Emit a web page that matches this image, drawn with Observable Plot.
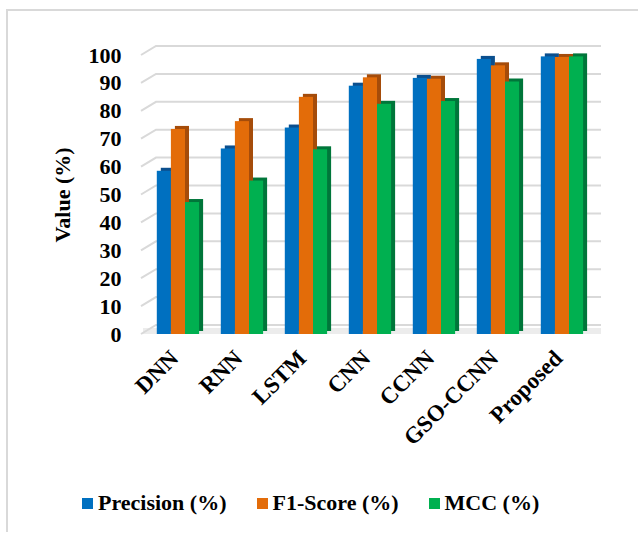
<!DOCTYPE html>
<html><head><meta charset="utf-8">
<script src="https://cdn.jsdelivr.net/npm/d3@7"></script>
<script src="https://cdn.jsdelivr.net/npm/@observablehq/plot@0.6"></script>
<style>
body{margin:0;background:#fff;width:638px;height:535px;overflow:hidden;position:relative;font-family:"Liberation Serif","Times New Roman",serif;}
#frame{position:absolute;left:6px;top:9px;width:700px;height:521px;border-top:2px solid #d9d9d9;border-left:2px solid #d9d9d9;}
#chart{position:absolute;left:0;top:0;}
#legend{position:absolute;left:82px;top:490px;height:26px;display:flex;align-items:center;font-weight:bold;font-size:22px;color:#000;white-space:nowrap;}
#legend .item{display:flex;align-items:center;margin-right:30px;}
#legend .sw{width:11px;height:11px;margin-right:5px;}
</style></head>
<body>
<div id="frame"></div>
<div id="chart"></div>
<div id="legend"></div>
<script>
const categories = ["DNN", "RNN", "LSTM", "CNN", "CCNN", "GSO-CCNN", "Proposed"];
const seriesNames = ["Precision (%)", "F1-Score (%)", "MCC (%)"];
const precision = [58.5, 66.5, 74.0, 89.0, 91.8, 98.6, 99.5];
const f1Score  = [73.5, 76.3, 85.0, 92.0, 91.5, 96.3, 99.3];
const mcc      = [47.3, 55.0, 66.2, 82.5, 83.5, 90.5, 99.5];
const yTicks = [0, 10, 20, 30, 40, 50, 60, 70, 80, 90, 100];
const frontColors = ["#0070C0", "#E36C09", "#00B050"];
const sideColors  = ["#0B4F8E", "#A54C0A", "#00763A"];

const seriesValues = [precision, f1Score, mcc];
const rows = [];
seriesNames.forEach((s, si) => categories.forEach((c, ci) => rows.push({category: c, series: s, value: seriesValues[si][ci]})));

// bar placement inside each band (styles)
const insets = [[10.8, 39.1], [24.9, 25.0], [39.0, 10.9]];

const barMarks = [];
seriesNames.forEach((s, si) => {
  const d = rows.filter(r => r.series === s);
  barMarks.push(Plot.barY(d, {x: "category", y: "value", fill: sideColors[si], dx: 4, dy: -3,
    insetLeft: insets[si][0], insetRight: insets[si][1]}));
  barMarks.push(Plot.barY(d, {x: "category", y: "value", fill: "series",
    insetLeft: insets[si][0], insetRight: insets[si][1]}));
});

const chart = Plot.plot({
  width: 638,
  height: 470,
  marginLeft: 146,
  marginRight: 44,
  marginTop: 55,
  marginBottom: 136,
  style: {fontFamily: "'Liberation Serif', 'Times New Roman', serif", fontSize: "22px", fontWeight: "bold", color: "#000", overflow: "visible", background: "transparent"},
  x: {domain: categories, padding: 0, round: false, axis: null},
  y: {domain: [0, 100], axis: null},
  color: {domain: seriesNames, range: frontColors},
  marks: [
    Plot.ruleY([0], {stroke: "#ececec", strokeWidth: 6, dy: -3.5, insetLeft: -3, insetRight: -7}),
    Plot.ruleY(yTicks, {render: (index, scales, values, dims) => {
      const g = d3.create("svg:g");
      const x0 = dims.marginLeft, x1 = dims.width - dims.marginRight;
      for (const i of index) {
        const y = scales.y(yTicks[i]);
        g.append("path")
          .attr("d", `M${x0 - 5},${y}L${x0 + 10},${y - 9}L${x1 + 7},${y - 9}`)
          .attr("fill", "none").attr("stroke", "#d9d9d9").attr("stroke-width", 2);
      }
      return g.node();
    }}),
    ...barMarks,
    Plot.axisY(yTicks, {tickSize: 0, tickPadding: 25, fontSize: 22, fontWeight: "bold", label: null}),
    Plot.axisX({tickRotate: -45, tickSize: 0, tickPadding: 20, dx: -4, fontSize: 23, fontWeight: "bold", label: null}),
    Plot.text(["Value (%)"], {frameAnchor: "left", textAnchor: "middle", rotate: -90, dx: -84, fontSize: 22, fontWeight: "bold", fill: "#000"})
  ]
});
document.getElementById("chart").appendChild(chart);

const legend = document.getElementById("legend");
seriesNames.forEach((s, i) => {
  const item = document.createElement("div");
  item.className = "item";
  const sw = document.createElement("span");
  sw.className = "sw";
  sw.style.background = frontColors[i];
  const t = document.createElement("span");
  t.textContent = s;
  item.appendChild(sw); item.appendChild(t);
  legend.appendChild(item);
});
</script>
</body></html>
